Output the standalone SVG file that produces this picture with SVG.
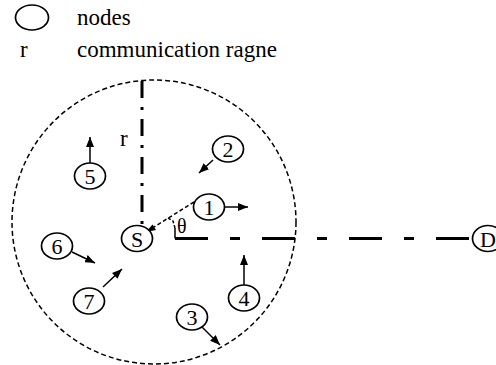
<svg xmlns="http://www.w3.org/2000/svg" width="496" height="365" viewBox="0 0 496 365">
<style>
  .node ellipse { fill: #fff; stroke: #000; stroke-width: 1.7; }
  text { font-family: 'Liberation Serif', 'Times New Roman', serif; fill: #000; }
  .lbl { font-size: 23px; }
  .nl { font-size: 22px; text-anchor: middle; }
  .arr { stroke: #000; stroke-width: 1.5; fill: none; marker-end: url(#ah); }
</style>
<defs>
  <marker id="ah" viewBox="0 0 10 8" refX="10" refY="4" markerWidth="10" markerHeight="8" markerUnits="userSpaceOnUse" orient="auto">
    <path d="M0,0 L10,4 L0,8 Z" fill="#000"/>
  </marker>
</defs>
<rect width="496" height="365" fill="#fff"/>

<g id="legend">
  <ellipse cx="32" cy="17.5" rx="16.5" ry="12.5" fill="none" stroke="#000" stroke-width="1.7"/>
  <text class="lbl" x="77" y="25" font-family="Liberation Serif, serif">nodes</text>
  <text class="lbl" x="20" y="57" font-family="Liberation Serif, serif">r</text>
  <text class="lbl" x="77" y="57" font-family="Liberation Serif, serif">communication ragne</text>
</g>

<g id="range">
  <circle cx="154" cy="222" r="142" fill="none" stroke="#000" stroke-width="1.5" stroke-dasharray="5 3"/>
</g>

<g id="connectors">
  <line x1="142" y1="81" x2="142" y2="225" stroke="#000" stroke-width="3" stroke-dasharray="17 9 3 9"/>
  <text class="lbl" x="120" y="146" font-family="Liberation Serif, serif">r</text>
  <line x1="175" y1="238.5" x2="472" y2="238.5" stroke="#000" stroke-width="3" stroke-dasharray="33 22 10 22"/>
  <line x1="175" y1="238.5" x2="175" y2="228" stroke="#000" stroke-width="1.5"/>
  <path d="M175,228 L173,221 L168,218" stroke="#000" stroke-width="1.5" fill="none" stroke-dasharray="3 2"/>
  <text class="lbl" x="177" y="233" style="font-size:20px" font-family="Liberation Serif, serif">θ</text>
  <line x1="194" y1="202" x2="146" y2="232" stroke="#000" stroke-width="1.5" stroke-dasharray="4 2.5"/>
  <path d="M146,232 L152.5,224.5 L156,230 Z" fill="#000"/>
  <line class="arr" x1="90" y1="163" x2="90" y2="137"/>
  <line class="arr" x1="213" y1="160" x2="199" y2="173"/>
  <line class="arr" x1="225" y1="207" x2="248" y2="207"/>
  <line class="arr" x1="72" y1="252" x2="95" y2="263"/>
  <line class="arr" x1="103" y1="287" x2="122" y2="269"/>
  <line class="arr" x1="244" y1="285" x2="244" y2="255"/>
  <line class="arr" x1="202" y1="327" x2="220" y2="345"/>
</g>

<g id="node-S" class="node"><ellipse cx="137" cy="238.5" rx="15.5" ry="13"/><text class="nl" x="137" y="246.5" font-family="Liberation Serif, serif">S</text></g>
<g id="node-D" class="node"><ellipse cx="488" cy="238.5" rx="15.5" ry="13"/><text class="nl" x="488" y="246.5" font-family="Liberation Serif, serif">D</text></g>
<g id="node-1" class="node"><ellipse cx="209" cy="207" rx="15.5" ry="13"/><text class="nl" x="209" y="215" font-family="Liberation Serif, serif">1</text></g>
<g id="node-2" class="node"><ellipse cx="228" cy="149" rx="15.5" ry="13"/><text class="nl" x="228" y="157" font-family="Liberation Serif, serif">2</text></g>
<g id="node-3" class="node"><ellipse cx="192" cy="317" rx="15.5" ry="13"/><text class="nl" x="192" y="325" font-family="Liberation Serif, serif">3</text></g>
<g id="node-4" class="node"><ellipse cx="244" cy="298" rx="15.5" ry="13"/><text class="nl" x="244" y="306" font-family="Liberation Serif, serif">4</text></g>
<g id="node-5" class="node"><ellipse cx="90" cy="176" rx="15.5" ry="13"/><text class="nl" x="90" y="184" font-family="Liberation Serif, serif">5</text></g>
<g id="node-6" class="node"><ellipse cx="57" cy="246" rx="15.5" ry="13"/><text class="nl" x="57" y="254" font-family="Liberation Serif, serif">6</text></g>
<g id="node-7" class="node"><ellipse cx="89" cy="301" rx="15.5" ry="13"/><text class="nl" x="89" y="309" font-family="Liberation Serif, serif">7</text></g>
</svg>
